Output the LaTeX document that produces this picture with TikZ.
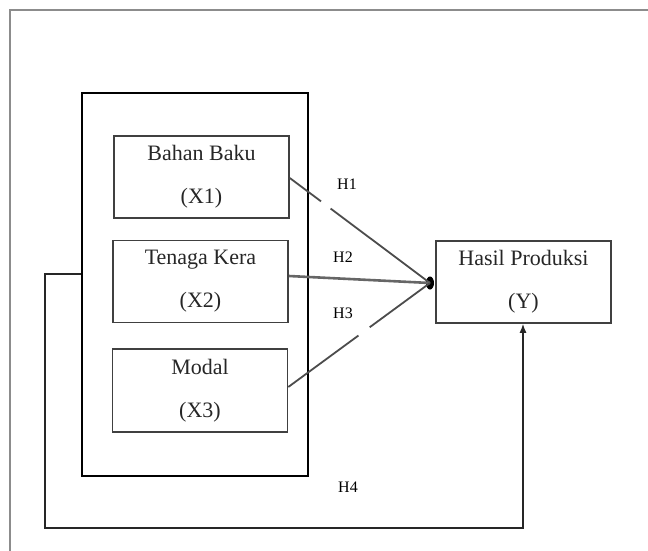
\documentclass[tikz,border=0pt]{standalone}
\usepackage{fontspec}
\setmainfont{Liberation Serif}
\usetikzlibrary{arrows.meta,shapes.geometric}
\tikzset{
  varbox/.style={draw=black!75, line width=1.6pt, minimum width=175pt, minimum height=82pt,
    align=center, inner sep=0pt, font=\fontsize{22}{43}\selectfont, text=black!85},
  hlabel/.style={font=\fontsize{16}{18}\selectfont, text=black},
  link/.style={draw=black!70, line width=1.8pt},
  frameline/.style={draw=black!45, line width=1.8pt}
}
\begin{document}
\begin{tikzpicture}[x=1pt,y=-1pt]
\useasboundingbox (0,0) rectangle (648,551);
% page frame
\coordinate (fa) at (10,10);
\coordinate (fb) at (648,10);
\coordinate (fc) at (10,551);
\draw[frameline] (fc) -- (fa) -- (fb);
% outer group box
\node[draw=black, line width=2.2pt, minimum width=226pt, minimum height=383pt, inner sep=0pt] (grp) at (195,284.5) {};
% variable boxes
\node[varbox] (x1) at (201.5,177) {Bahan Baku\\(X1)};
\node[varbox] (x2) at (200.5,281.5) {Tenaga Kera\\(X2)};
\node[varbox, minimum height=83pt] (x3) at (200,390.5) {Modal\\(X3)};
\node[varbox] (y) at (523.5,282) {Hasil Produksi\\(Y)};
% junction dot
\node[fill=black, ellipse, minimum width=8pt, minimum height=13pt, inner sep=0pt] (dot) at (430,283) {};
% hypothesis links
\draw[link, dash pattern=on 39pt off 12pt on 300pt] ([yshift=-1pt]x1.east) -- (dot.center);
\draw[link, line width=2.6pt, draw=black!60] ([yshift=5.5pt]x2.east) -- (dot.center);
\draw[link, dash pattern=on 87pt off 14pt on 300pt] ([yshift=3.5pt]x3.east) -- (dot.center);
% labels
\node[hlabel] (h1) at (347,184) {H1};
\node[hlabel] (h2) at (343,257) {H2};
\node[hlabel] (h3) at (343,313) {H3};
\node[hlabel] (h4) at (348,487) {H4};
% H4 path
\coordinate (c1) at (45,274);
\coordinate (c2) at (45,528);
\coordinate (c3) at (523,528);
\draw[draw=black!85, line width=1.4pt, -{Latex[length=9pt,width=7pt]}]
  (grp.west |- c1) -- (c1) -- (c2) -- (c3) -- (y.south -| c3);
\end{tikzpicture}
\end{document}
